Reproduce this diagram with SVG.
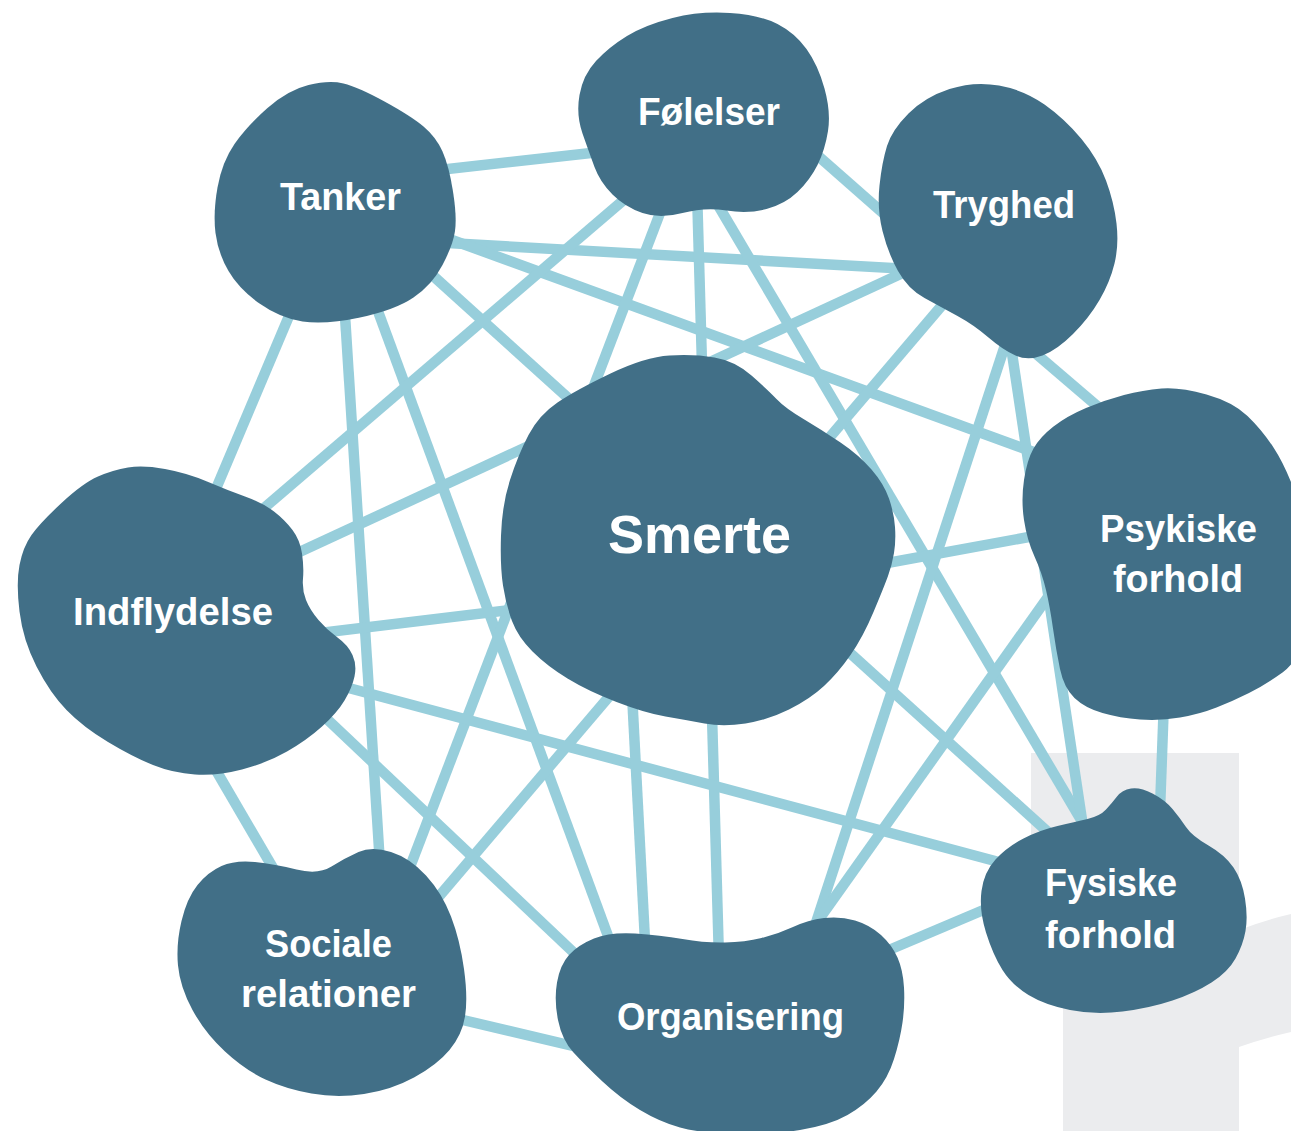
<svg xmlns="http://www.w3.org/2000/svg" width="1291" height="1131" viewBox="0 0 1291 1131">
<style>
.bg{fill:#ebecee}
.e{stroke:#97cedb;stroke-width:10.5;fill:none;stroke-linecap:butt}
.n{fill:#416f87}
.t{fill:#ffffff;font-family:"Liberation Sans",Arial,sans-serif;font-weight:bold;font-size:39px}
.big{font-size:53px}
</style>
<rect width="1291" height="1131" fill="#ffffff"/>
<path class="bg" d="M1031,753 H1239 V930 Q1265,920 1291,914 V1032 Q1265,1038 1239,1047 V1131 H1063 V950 L1031,910 Z"/>
<g id="connectors">
<line class="e" x1="430" y1="171" x2="600" y2="152"/>
<line class="e" x1="800" y1="140" x2="900" y2="228"/>
<line class="e" x1="430" y1="242" x2="910" y2="269"/>
<line class="e" x1="430" y1="232" x2="1050" y2="458"/>
<line class="e" x1="420" y1="264" x2="1060" y2="843"/>
<line class="e" x1="300" y1="290" x2="210" y2="503"/>
<line class="e" x1="344" y1="300" x2="381" y2="880"/>
<line class="e" x1="372" y1="295" x2="615" y2="955"/>
<line class="e" x1="640" y1="186" x2="250" y2="520"/>
<line class="e" x1="665" y1="200" x2="405" y2="880"/>
<line class="e" x1="697" y1="190" x2="719" y2="960"/>
<line class="e" x1="715" y1="200" x2="1090" y2="835"/>
<line class="e" x1="920" y1="265" x2="280" y2="561"/>
<line class="e" x1="955" y1="290" x2="430" y2="907"/>
<line class="e" x1="1020" y1="340" x2="1110" y2="417"/>
<line class="e" x1="1010" y1="340" x2="1085" y2="840"/>
<line class="e" x1="1010" y1="330" x2="812" y2="935"/>
<line class="e" x1="1060" y1="580" x2="815" y2="925"/>
<line class="e" x1="1164" y1="700" x2="1160" y2="810"/>
<line class="e" x1="860" y1="568" x2="1040" y2="535"/>
<line class="e" x1="320" y1="633" x2="560" y2="604"/>
<line class="e" x1="330" y1="683" x2="1010" y2="865"/>
<line class="e" x1="310" y1="703" x2="590" y2="968"/>
<line class="e" x1="210" y1="760" x2="280" y2="880"/>
<line class="e" x1="450" y1="1017" x2="590" y2="1050"/>
<line class="e" x1="870" y1="958" x2="1000" y2="903"/>
<line class="e" x1="625" y1="560" x2="646" y2="960"/>
</g>
<g id="node-tanker">
<path class="n" d="M308.5,85 Q329,80 343.5,83.5 Q358,87 384.5,101.5 Q411,116 423.5,126.5 Q436,137 442.5,151.5 Q449,166 453,191.5 Q457,217 455,231 Q453,245 442.5,265 Q432,285 413.5,297.5 Q395,310 360,317.5 Q325,325 302.5,321.5 Q280,318 259.5,303.5 Q239,289 228.5,271 Q218,253 215.5,233 Q213,213 217.5,187.5 Q222,162 234.5,144 Q247,126 267.5,108 Q288,90 308.5,85 Z"/>
<text class="t" x="280" y="209.5" textLength="121" lengthAdjust="spacingAndGlyphs">Tanker</text>
</g>
<g id="node-folelser">
<path class="n" d="M672.5,18 Q700,11 730,13 Q760,15 777.5,24 Q795,33 806.5,49 Q818,65 824.5,88.5 Q831,112 828,131 Q825,150 817.5,165 Q810,180 797.5,192 Q785,204 766.5,209 Q748,214 726.5,210.5 Q705,207 682.5,213 Q660,219 642.5,213 Q625,207 612.5,194.5 Q600,182 594.5,167 Q589,152 582.5,133.5 Q576,115 579.5,95 Q583,75 596,61 Q609,47 627,36 Q645,25 672.5,18 Z"/>
<text class="t" x="638" y="124.5" textLength="142" lengthAdjust="spacingAndGlyphs">Følelser</text>
</g>
<g id="node-tryghed">
<path class="n" d="M949.5,89 Q974,81 999,85.5 Q1024,90 1044.5,104.5 Q1065,119 1081.5,139 Q1098,159 1106,180.5 Q1114,202 1116.5,223.5 Q1119,245 1114.5,263.5 Q1110,282 1099.5,300 Q1089,318 1073,334 Q1057,350 1042.5,355.5 Q1028,361 1015.5,355.5 Q1003,350 988.5,337.5 Q974,325 957.5,316 Q941,307 924.5,298 Q908,289 898,271 Q888,253 882.5,231 Q877,209 879.5,185.5 Q882,162 887,146 Q892,130 908.5,113.5 Q925,97 949.5,89 Z"/>
<text class="t" x="933" y="218" textLength="142" lengthAdjust="spacingAndGlyphs">Tryghed</text>
</g>
<g id="node-psykiske">
<path class="n" d="M1161.5,388.5 Q1180,387 1206.5,394.5 Q1233,402 1247.5,416 Q1262,430 1273.5,447.5 Q1285,465 1295,492.5 Q1305,520 1307.5,560 Q1310,600 1305,630 Q1300,660 1282.5,672.5 Q1265,685 1249,693 Q1233,701 1216.5,707.5 Q1200,714 1180,717.5 Q1160,721 1140,719.5 Q1120,718 1102.5,713 Q1085,708 1074.5,698 Q1064,688 1060,669 Q1056,650 1053,628.5 Q1050,607 1046,590 Q1042,573 1034.5,556.5 Q1027,540 1024,520 Q1021,500 1024,480 Q1027,460 1033.5,448.5 Q1040,437 1053.5,426.5 Q1067,416 1086,408 Q1105,400 1124,395 Q1143,390 1161.5,388.5 Z"/>
<text class="t" x="1100" y="542" textLength="157" lengthAdjust="spacingAndGlyphs">Psykiske</text>
<text class="t" x="1113" y="592" textLength="130" lengthAdjust="spacingAndGlyphs">forhold</text>
</g>
<g id="node-fysiske">
<path class="n" d="M1131,788.5 Q1140,787 1152.5,793.5 Q1165,800 1172.5,809 Q1180,818 1186,827 Q1192,836 1208.5,845.5 Q1225,855 1233.5,867.5 Q1242,880 1245,898.5 Q1248,917 1245.5,931 Q1243,945 1235.5,958.5 Q1228,972 1211.5,982.5 Q1195,993 1172.5,1000.5 Q1150,1008 1122.5,1011.5 Q1095,1015 1070,1010 Q1045,1005 1028.5,995 Q1012,985 1002.5,970 Q993,955 986,932.5 Q979,910 981.5,891 Q984,872 995.5,859.5 Q1007,847 1023.5,838.5 Q1040,830 1057.5,826 Q1075,822 1087.5,819 Q1100,816 1106,809.5 Q1112,803 1117,796.5 Q1122,790 1131,788.5 Z"/>
<text class="t" x="1045" y="896" textLength="132" lengthAdjust="spacingAndGlyphs">Fysiske</text>
<text class="t" x="1045" y="948" textLength="131" lengthAdjust="spacingAndGlyphs">forhold</text>
</g>
<g id="node-organisering">
<path class="n" d="M824,918 Q840,916 855,920.5 Q870,925 881,935 Q892,945 897.5,957.5 Q903,970 904,987.5 Q905,1005 902.5,1022.5 Q900,1040 894,1059 Q888,1078 876.5,1091.5 Q865,1105 847.5,1115 Q830,1125 800,1130 Q770,1135 735,1134 Q700,1133 680,1127.5 Q660,1122 640,1110 Q620,1098 602.5,1081.5 Q585,1065 573.5,1052.5 Q562,1040 558,1020 Q554,1000 557,982.5 Q560,965 569,955 Q578,945 594,938.5 Q610,932 635,933.5 Q660,935 682.5,939 Q705,943 725,942.5 Q745,942 761.5,938 Q778,934 793,927 Q808,920 824,918 Z"/>
<text class="t" x="617" y="1030" textLength="227" lengthAdjust="spacingAndGlyphs">Organisering</text>
</g>
<g id="node-sociale">
<path class="n" d="M358.5,852 Q372,846 391,852 Q410,858 426,875.5 Q442,893 451,916.5 Q460,940 464,969 Q468,998 465,1016.5 Q462,1035 449.5,1050 Q437,1065 414,1077.5 Q391,1090 364,1094 Q337,1098 311.5,1093.5 Q286,1089 265.5,1079.5 Q245,1070 225,1051.5 Q205,1033 192.5,1010 Q180,987 178,965.5 Q176,944 181.5,921 Q187,898 197.5,885 Q208,872 221.5,866 Q235,860 255,862 Q275,864 296.5,869.5 Q318,875 331.5,866.5 Q345,858 358.5,852 Z"/>
<text class="t" x="265" y="957" textLength="127" lengthAdjust="spacingAndGlyphs">Sociale</text>
<text class="t" x="241" y="1007" textLength="175" lengthAdjust="spacingAndGlyphs">relationer</text>
</g>
<g id="node-indflydelse">
<path class="n" d="M128,467.5 Q143,465 165,469 Q187,473 207,481.5 Q227,490 245,496.5 Q263,503 274,511.5 Q285,520 292.5,530 Q300,540 302,553.5 Q304,567 303,578.5 Q302,590 306,600 Q310,610 318.5,620 Q327,630 337.5,637.5 Q348,645 352.5,655 Q357,665 354.5,676.5 Q352,688 344.5,700.5 Q337,713 322,726.5 Q307,740 287,751.5 Q267,763 242,769.5 Q217,776 195,774.5 Q173,773 153,765 Q133,757 108,742 Q83,727 66.5,710 Q50,693 36.5,666.5 Q23,640 19.5,611.5 Q16,583 19.5,565 Q23,547 31.5,535 Q40,523 61.5,503 Q83,483 98,476.5 Q113,470 128,467.5 Z"/>
<text class="t" x="73" y="625" textLength="200" lengthAdjust="spacingAndGlyphs">Indflydelse</text>
</g>
<g id="node-smerte">
<path class="n" d="M669.5,355.5 Q694,354 714.5,357.5 Q735,361 751.5,375.5 Q768,390 776.5,399 Q785,408 803.5,419 Q822,430 840.5,442.5 Q859,455 871.5,469.5 Q884,484 889,498.5 Q894,513 895,527 Q896,541 894,553 Q892,565 888,576 Q884,587 873.5,612 Q863,637 850.5,655 Q838,673 824,686 Q810,699 789,709.5 Q768,720 745.5,723.5 Q723,727 704.5,723.5 Q686,720 665.5,716.5 Q645,713 616.5,702 Q588,691 567.5,678.5 Q547,666 532.5,651.5 Q518,637 512,621 Q506,605 503,585.5 Q500,566 501,535.5 Q502,505 510,480 Q518,455 528.5,435 Q539,415 557.5,402.5 Q576,390 610.5,373.5 Q645,357 669.5,355.5 Z"/>
<text class="t big" x="608" y="553" textLength="183" lengthAdjust="spacingAndGlyphs">Smerte</text>
</g>
</svg>
